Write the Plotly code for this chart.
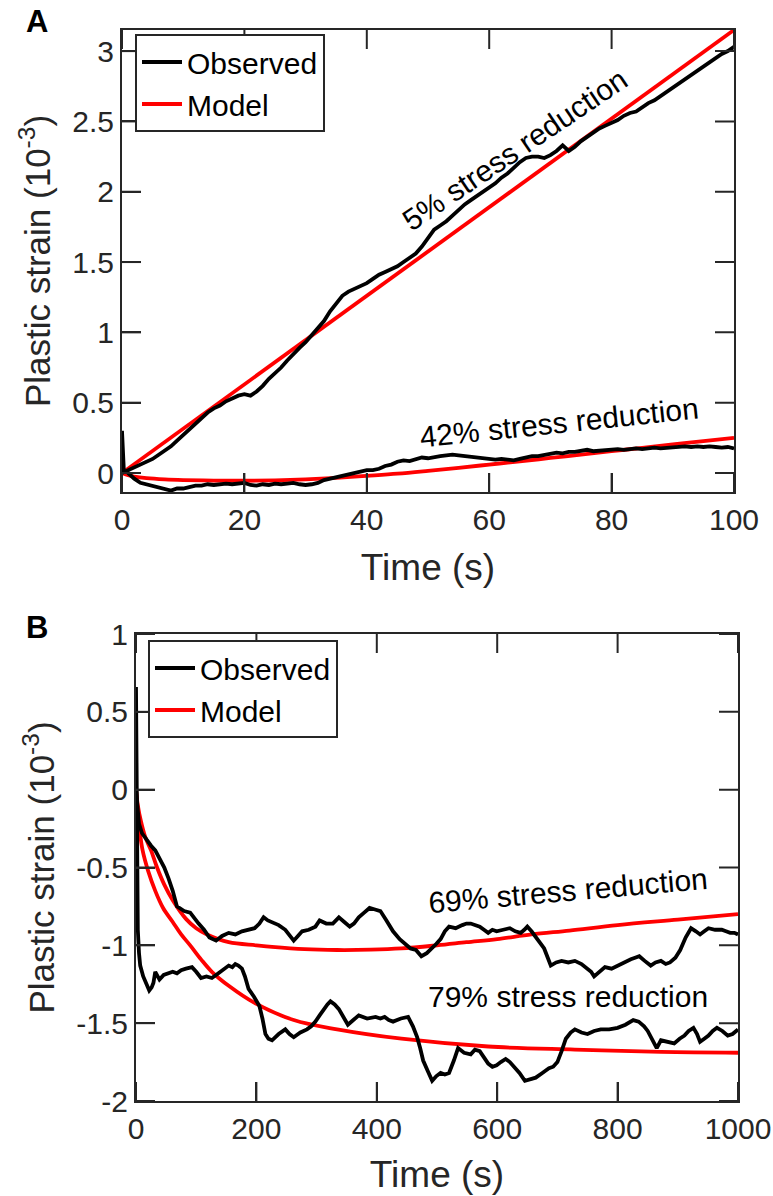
import plotly.graph_objects as go

# ---------------- Panel A data ----------------
t_a = list(range(0, 101))
obs_5pct = [0.00, 0.02, 0.04, 0.06, 0.08, 0.10, 0.13, 0.16, 0.19, 0.23,
            0.27, 0.31, 0.35, 0.39, 0.43, 0.46, 0.48, 0.51, 0.53, 0.55,
            0.56, 0.55, 0.58, 0.62, 0.67, 0.71, 0.75, 0.80, 0.85, 0.89,
            0.93, 0.98, 1.03, 1.08, 1.15, 1.21, 1.26, 1.29, 1.31, 1.33,
            1.35, 1.38, 1.41, 1.43, 1.45, 1.47, 1.50, 1.53, 1.56, 1.61,
            1.67, 1.73, 1.76, 1.79, 1.83, 1.87, 1.91, 1.94, 1.97, 2.00,
            2.03, 2.06, 2.10, 2.13, 2.17, 2.21, 2.24, 2.25, 2.25, 2.24,
            2.26, 2.29, 2.33, 2.29, 2.32, 2.36, 2.39, 2.42, 2.45, 2.47,
            2.49, 2.51, 2.54, 2.56, 2.57, 2.60, 2.63, 2.65, 2.68, 2.71,
            2.74, 2.77, 2.80, 2.83, 2.86, 2.89, 2.92, 2.95, 2.98, 3.00, 3.03]

t_a42 = [0, 0.3] + list(range(1, 101))
obs_42pct = [0.30, 0.02,
             0.00, -0.04, -0.07, -0.08, -0.09, -0.10, -0.11, -0.125, -0.11,
             -0.11, -0.10, -0.09, -0.09, -0.08, -0.085, -0.08, -0.075, -0.08, -0.075,
             -0.07, -0.085, -0.09, -0.08, -0.085, -0.075, -0.08, -0.075, -0.07, -0.08,
             -0.085, -0.08, -0.07, -0.05, -0.04, -0.03, -0.02, -0.01, 0.00, 0.01,
             0.02, 0.02, 0.03, 0.05, 0.06, 0.08, 0.09, 0.085, 0.10, 0.11,
             0.105, 0.115, 0.12, 0.125, 0.13, 0.125, 0.12, 0.11, 0.105, 0.10,
             0.10, 0.095, 0.10, 0.095, 0.09, 0.10, 0.11, 0.12, 0.12, 0.13,
             0.14, 0.145, 0.14, 0.15, 0.15, 0.16, 0.165, 0.155, 0.16, 0.16,
             0.165, 0.17, 0.165, 0.17, 0.175, 0.17, 0.175, 0.18, 0.175, 0.18,
             0.18, 0.185, 0.19, 0.185, 0.19, 0.185, 0.19, 0.185, 0.18, 0.185, 0.175]

t_model5 = [0, 100]
model_5pct = [0.0, 3.15]

t_model42 = [0, 1, 2, 4, 7, 10, 15, 20, 25, 30, 35, 40, 45, 50, 55, 60, 65, 70,
             75, 80, 85, 90, 95, 100]
model_42pct = [0.0, -0.015, -0.025, -0.036, -0.045, -0.05, -0.054, -0.055, -0.052,
               -0.045, -0.034, -0.02, -0.005, 0.015, 0.037, 0.06, 0.083, 0.107,
               0.131, 0.155, 0.179, 0.203, 0.227, 0.25]

# ---------------- Panel B data ----------------
t_b69 = [0, 2, 5, 10, 15, 20, 25, 32, 40, 47, 54, 61, 68, 75, 80, 90, 97, 104, 113,
         122, 133, 143, 154, 165, 176, 186, 197, 205, 212, 219, 226, 237, 248, 255,
         262, 269, 276, 287, 298, 305, 316, 327, 337, 346, 355, 362, 370, 379, 388,
         397, 406, 416, 427, 438, 449, 456, 465, 474, 483, 492, 499, 506, 513, 520,
         531, 542, 549, 556, 563, 571, 578, 585, 592, 599, 610, 621, 630, 639, 645,
         650, 657, 664, 671, 678, 684, 689, 698, 707, 718, 729, 740, 750, 756, 761,
         770, 779, 790, 800, 811, 822, 829, 836, 845, 855, 863, 872, 880, 887, 896,
         904, 913, 922, 930, 937, 944, 951, 962, 973, 980, 987, 994, 1000]
obs_69pct = [0.0, -0.12, -0.22, -0.28, -0.31, -0.34, -0.36, -0.39, -0.45, -0.50,
             -0.57, -0.65, -0.75, -0.77, -0.78, -0.79, -0.83, -0.86, -0.90,
             -0.95, -0.97, -0.94, -0.92, -0.93, -0.91, -0.90, -0.89, -0.86, -0.82,
             -0.84, -0.85, -0.87, -0.90, -0.94, -0.97, -0.94, -0.91, -0.90, -0.88,
             -0.84, -0.86, -0.86, -0.82, -0.85, -0.88, -0.86, -0.82, -0.79, -0.76,
             -0.77, -0.78, -0.84, -0.91, -0.96, -1.00, -1.02, -1.03, -1.07, -1.05,
             -1.02, -0.99, -0.96, -0.91, -0.88, -0.89, -0.87, -0.86, -0.86, -0.87,
             -0.88, -0.90, -0.92, -0.90, -0.91, -0.90, -0.89, -0.91, -0.92, -0.90,
             -0.88, -0.91, -0.95, -0.98, -1.02, -1.08, -1.13, -1.11, -1.10, -1.11,
             -1.10, -1.12, -1.15, -1.17, -1.20, -1.17, -1.14, -1.15, -1.13, -1.11,
             -1.09, -1.08, -1.07, -1.10, -1.13, -1.11, -1.10, -1.12, -1.11, -1.08,
             -1.03, -0.95, -0.89, -0.91, -0.93, -0.91, -0.89, -0.90, -0.90, -0.91,
             -0.92, -0.92, -0.93]

t_b79 = [0, 1, 2, 3, 5, 7, 12, 18, 22, 26, 29, 32, 36, 39, 46, 54, 61, 68, 75, 83,
         93, 100, 108, 117, 126, 133, 140, 147, 154, 160, 165, 170, 176, 181, 187,
         196, 205, 210, 215, 220, 226, 237, 248, 255, 262, 273, 284, 291, 298, 305,
         312, 318, 323, 330, 337, 345, 352, 361, 370, 384, 398, 406, 413, 420, 427,
         440, 452, 460, 467, 472, 477, 485, 492, 499, 506, 513, 520, 528, 535, 545,
         556, 563, 571, 578, 585, 592, 599, 606, 614, 621, 628, 637, 646, 655, 664,
         675, 686, 693, 700, 707, 714, 722, 729, 740, 750, 761, 772, 786, 800, 813,
         826, 835, 844, 850, 854, 860, 865, 872, 883, 894, 903, 911, 918, 926, 932,
         937, 944, 951, 958, 965, 974, 983, 991, 1000]
obs_79pct = [0.66, 0.20, -0.50, -0.90, -1.05, -1.13, -1.20, -1.26, -1.29, -1.27,
             -1.24, -1.17, -1.20, -1.22, -1.19, -1.18, -1.17, -1.18, -1.16, -1.15,
             -1.14, -1.17, -1.21, -1.20, -1.21, -1.19, -1.17, -1.15, -1.13, -1.14,
             -1.12, -1.13, -1.15, -1.20, -1.28, -1.33, -1.39, -1.47, -1.57, -1.60,
             -1.61, -1.57, -1.54, -1.57, -1.59, -1.56, -1.54, -1.52, -1.49, -1.45,
             -1.41, -1.38, -1.36, -1.38, -1.41, -1.46, -1.51, -1.48, -1.45, -1.47,
             -1.46, -1.47, -1.46, -1.48, -1.49, -1.47, -1.46, -1.52, -1.59, -1.66,
             -1.74, -1.81, -1.87, -1.84, -1.82, -1.83, -1.82, -1.74, -1.66, -1.69,
             -1.70, -1.67, -1.68, -1.72, -1.76, -1.78, -1.77, -1.75, -1.73, -1.75,
             -1.78, -1.82, -1.87, -1.86, -1.85, -1.82, -1.79, -1.78, -1.75, -1.68,
             -1.60, -1.56, -1.54, -1.56, -1.57, -1.55, -1.54, -1.54, -1.53, -1.51,
             -1.48, -1.49, -1.52, -1.55, -1.58, -1.63, -1.66, -1.61, -1.62, -1.63,
             -1.60, -1.58, -1.55, -1.53, -1.57, -1.62, -1.60, -1.58, -1.55, -1.53,
             -1.55, -1.58, -1.57, -1.54]

t_model69 = [0, 3, 8, 15, 25, 35, 47, 61, 83, 100, 118, 154, 200, 226, 280, 334,
             390, 441, 500, 549, 600, 657, 720, 800, 900, 1000]
model_69pct = [0.0, -0.10, -0.20, -0.30, -0.39, -0.50, -0.61, -0.71, -0.83, -0.89,
               -0.93, -0.98, -1.00, -1.01, -1.025, -1.03, -1.028, -1.02, -1.00,
               -0.98, -0.96, -0.93, -0.905, -0.87, -0.835, -0.80]

t_model79 = [0, 3, 6, 11, 20, 32, 45, 61, 75, 90, 108, 126, 154, 197, 262, 334,
             441, 585, 729, 872, 1000]
model_79pct = [0.0, -0.15, -0.26, -0.39, -0.52, -0.65, -0.76, -0.85, -0.93, -1.00,
               -1.09, -1.17, -1.26, -1.37, -1.48, -1.54, -1.60, -1.65, -1.67,
               -1.685, -1.69]

# ---------------- Axis ticks / ranges ----------------
a_xrange = [0, 100]
a_yrange = [-0.135, 3.15]
a_xticks = [0, 20, 40, 60, 80, 100]
a_yticks = [0, 0.5, 1, 1.5, 2, 2.5, 3]
a_yticklabels = ["0", "0.5", "1", "1.5", "2", "2.5", "3"]
b_xrange = [0, 1000]
b_yrange = [-2, 1]
b_xticks = [0, 200, 400, 600, 800, 1000]
b_yticks = [-2, -1.5, -1, -0.5, 0, 0.5, 1]
b_yticklabels = ["-2", "-1.5", "-1", "-0.5", "0", "0.5", "1"]

BLACK = "#000000"
RED = "#FF0000"
AX = "#262626"
FONT = "Liberation Sans, Arial, Helvetica, sans-serif"
LW = 3.8
W, H = 773, 1196
TL = 19  # visible tick length (px) inside the frame

# panel frames in pixels (left, right, top, bottom)
A_PX = (122, 734, 30, 492)
B_PX = (136, 738, 634, 1101)
A_X = [A_PX[0] / W, A_PX[1] / W]
A_Y = [1 - A_PX[3] / H, 1 - A_PX[2] / H]
B_X = [B_PX[0] / W, B_PX[1] / W]
B_Y = [1 - B_PX[3] / H, 1 - B_PX[2] / H]

fig = go.Figure()

# Panel A
fig.add_trace(go.Scatter(x=t_model5, y=model_5pct, mode="lines", line=dict(color=RED, width=LW),
                         name="Model", legend="legend", legendrank=2, xaxis="x", yaxis="y"))
fig.add_trace(go.Scatter(x=t_model42, y=model_42pct, mode="lines", line=dict(color=RED, width=LW, shape="spline"),
                         name="Model", showlegend=False, xaxis="x", yaxis="y"))
fig.add_trace(go.Scatter(x=t_a, y=obs_5pct, mode="lines", line=dict(color=BLACK, width=LW),
                         name="Observed", legend="legend", legendrank=1, xaxis="x", yaxis="y"))
fig.add_trace(go.Scatter(x=t_a42, y=obs_42pct, mode="lines", line=dict(color=BLACK, width=LW),
                         name="Observed", showlegend=False, xaxis="x", yaxis="y"))

# Panel B
fig.add_trace(go.Scatter(x=t_model69, y=model_69pct, mode="lines", line=dict(color=RED, width=LW, shape="spline"),
                         name="Model", legend="legend2", legendrank=2, xaxis="x2", yaxis="y2"))
fig.add_trace(go.Scatter(x=t_model79, y=model_79pct, mode="lines", line=dict(color=RED, width=LW, shape="spline"),
                         name="Model", showlegend=False, xaxis="x2", yaxis="y2"))
fig.add_trace(go.Scatter(x=t_b69, y=obs_69pct, mode="lines", line=dict(color=BLACK, width=LW),
                         name="Observed", legend="legend2", legendrank=1, xaxis="x2", yaxis="y2"))
fig.add_trace(go.Scatter(x=t_b79, y=obs_79pct, mode="lines", line=dict(color=BLACK, width=LW),
                         name="Observed", showlegend=False, xaxis="x2", yaxis="y2"))

# Inward (MATLAB-style) tick marks on the four sides of each frame, placed at the
# tick values.  Top/right: line markers centred on the edge, clipped so only the
# inner half shows.  Bottom/left: markers of length TL centred TL/2 px inside.
def add_frame_ticks(xr, yr, xt, yt, px, xa, ya):
    w_px = px[1] - px[0]
    h_px = px[3] - px[2]
    dx = (TL / 2) * (xr[1] - xr[0]) / w_px
    dy = (TL / 2) * (yr[1] - yr[0]) / h_px
    full = 2 * TL / 1.4   # plotly line symbols are 1.4*size long
    half = TL / 1.4
    mk = lambda sym, size: dict(symbol=sym, size=size, color=AX, line=dict(color=AX, width=2))
    common = dict(mode="markers", showlegend=False, hoverinfo="skip", xaxis=xa, yaxis=ya)
    # top edge
    fig.add_trace(go.Scatter(x=xt, y=[yr[1]] * len(xt), marker=mk("line-ns", full),
                             cliponaxis=True, **common))
    # right edge
    fig.add_trace(go.Scatter(x=[xr[1]] * len(yt), y=yt, marker=mk("line-ew", full),
                             cliponaxis=True, **common))
    # bottom edge
    fig.add_trace(go.Scatter(x=xt, y=[yr[0] + dy] * len(xt), marker=mk("line-ns", half),
                             cliponaxis=False, **common))
    # left edge
    fig.add_trace(go.Scatter(x=[xr[0] + dx] * len(yt), y=yt, marker=mk("line-ew", half),
                             cliponaxis=False, **common))


add_frame_ticks(a_xrange, a_yrange, a_xticks, a_yticks, A_PX, "x", "y")
add_frame_ticks(b_xrange, b_yrange, b_xticks, b_yticks, B_PX, "x2", "y2")


def main_axis(**kw):
    d = dict(showline=True, linecolor=AX, linewidth=2, mirror=True,
             ticks="inside", ticklen=TL, tickwidth=2, tickcolor=AX,
             showgrid=False, zeroline=False, automargin=False,
             tickfont=dict(family=FONT, size=30, color=AX))
    d.update(kw)
    return d


xtitle_font = dict(family=FONT, size=37, color=AX)
ytitle_font = dict(family=FONT, size=35, color=AX)
ytitle = "Plastic strain (10<sup>-3</sup>)"
leg_font = dict(family=FONT, size=30, color=BLACK)

fig.update_layout(
    template="simple_white",
    width=W, height=H,
    margin=dict(l=0, r=0, t=0, b=0, autoexpand=False),
    paper_bgcolor="white", plot_bgcolor="white",
    xaxis=main_axis(domain=A_X, anchor="y", range=a_xrange, tickvals=a_xticks,
                    title=dict(text="Time (s)", font=xtitle_font, standoff=19)),
    yaxis=main_axis(domain=A_Y, anchor="x", range=a_yrange, tickvals=a_yticks,
                    ticktext=a_yticklabels,
                    title=dict(text=ytitle, font=ytitle_font, standoff=11)),
    xaxis2=main_axis(domain=B_X, anchor="y2", range=b_xrange, tickvals=b_xticks,
                     title=dict(text="Time (s)", font=xtitle_font, standoff=17)),
    yaxis2=main_axis(domain=B_Y, anchor="x2", range=b_yrange, tickvals=b_yticks,
                     ticktext=b_yticklabels,
                     title=dict(text=ytitle, font=ytitle_font, standoff=11)),
    legend=dict(x=135 / W, y=1 - 34 / H, xanchor="left", yanchor="top",
                bgcolor="white", bordercolor=AX, borderwidth=2, itemwidth=40,
                font=leg_font, tracegroupgap=0),
    legend2=dict(x=148 / W, y=1 - 640 / H, xanchor="left", yanchor="top",
                 bgcolor="white", bordercolor=AX, borderwidth=2, itemwidth=40,
                 font=leg_font, tracegroupgap=0),
    showlegend=True,
)

ann_font = dict(family=FONT, size=30, color=BLACK)
fig.add_annotation(text="<b>A</b>", xref="paper", yref="paper", x=37 / W, y=1 - 22 / H,
                   xanchor="center", yanchor="middle", showarrow=False,
                   font=dict(family=FONT, size=31, color=BLACK))
fig.add_annotation(text="<b>B</b>", xref="paper", yref="paper", x=37 / W, y=1 - 627 / H,
                   xanchor="center", yanchor="middle", showarrow=False,
                   font=dict(family=FONT, size=31, color=BLACK))
fig.add_annotation(text="5% stress reduction", xref="x", yref="y", x=64.2, y=2.30,
                   textangle=-34, showarrow=False, font=ann_font)
fig.add_annotation(text="42% stress reduction", xref="x", yref="y", x=71.4, y=0.36,
                   textangle=-6, showarrow=False, font=ann_font)
fig.add_annotation(text="69% stress reduction", xref="x2", yref="y2", x=718, y=-0.65,
                   textangle=-5, showarrow=False, font=ann_font)
fig.add_annotation(text="79% stress reduction", xref="x2", yref="y2", x=717, y=-1.33,
                   textangle=0, showarrow=False, font=ann_font)

fig.write_html("out.html")
